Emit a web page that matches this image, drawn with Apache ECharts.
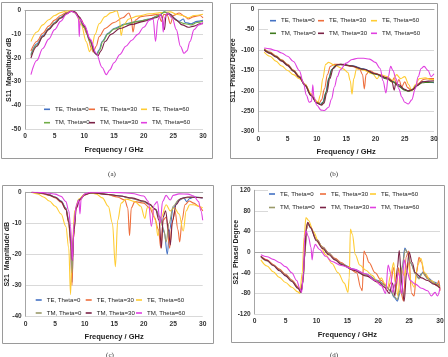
<!DOCTYPE html>
<html>
<head>
<meta charset="utf-8">
<script src="https://cdn.jsdelivr.net/npm/echarts@6/dist/echarts.min.js"></script>
<style>
  html, body { margin: 0; padding: 0; background: #fff; }
  #chart { width: 448px; height: 357px; }
</style>
</head>
<body>
<div id="chart"></div>
<script>
const seriesNames = ['TE, Theta=0', 'TE, Theta=30', 'TE, Theta=60', 'TM, Theta=0', 'TM, Theta=30', 'TM, Theta=60']
const xTicks = [0, 5, 10, 15, 20, 25, 30]

// (a) S11 magnitude [GHz, dB]
const s11MagTE0 = [[1,-18.5],[2,-14],[3,-10.5],[4,-7.5],[5,-5],[6,-2.8],[7,-1],[7.8,-0.2],[8.3,-0.5],[9,-2.5],[10,-7],[11,-13],[11.6,-17],[12,-18.5],[12.5,-16.5],[13,-13],[14,-9.5],[15,-7.5],[17,-5.5],[19,-4.5],[21,-3.5],[22.5,-2],[23.5,-0.5],[24.2,-1],[25,-3],[26,-4.5],[26.7,-3.5],[27,-5],[28,-5.5],[29,-4.5],[30,-4]]
const s11MagTE30 = [[1,-17],[2,-13],[3,-9.5],[4,-6.5],[5,-4],[6,-2],[7,-0.7],[7.8,-0.1],[8.5,-0.8],[9.5,-4],[10.5,-10],[11.2,-16],[11.5,-17.5],[12,-15],[12.5,-11],[13.5,-7.5],[15,-5],[16.5,-3],[17.5,-1],[17.9,-3],[18.2,-9],[18.6,-4],[19.5,-2.5],[21,-2],[22.5,-1.5],[23,-4.5],[23.4,-1.5],[24,-2],[24.5,-5.5],[25,-2],[26,-1],[27,-2.5],[27.5,-3.5],[28.5,-2.5],[29.5,-2],[30,-3]]
const s11MagTE60 = [[1,-13],[2,-9],[3,-6],[4,-3.8],[5,-2],[6,-0.8],[7,-0.1],[7.8,0],[8.5,-1],[9.5,-6],[10.3,-13],[10.9,-17.3],[11.3,-15],[11.8,-10],[12.5,-5.5],[13.5,-2.5],[14.5,-0.8],[15.5,0],[15.9,-3],[16.2,-10.5],[16.6,-6],[17.5,-3.5],[19,-2.3],[21,-1.3],[23,-0.8],[24.5,-0.5],[25.5,-1.5],[26.5,-2],[27.5,-3],[28.5,-2],[30,-1.5]]
const s11MagTM0 = [[1,-19],[2,-14.5],[3,-11],[4,-7.8],[5,-5.2],[6,-3],[7,-1.1],[7.8,-0.2],[8.3,-0.5],[9,-2.6],[10,-7.2],[11,-13.3],[11.7,-17.5],[12.1,-18.7],[12.6,-16.5],[13.1,-13],[14,-9.8],[15,-7.8],[17,-5.7],[19,-4.6],[21,-3.6],[22.5,-2.1],[23.5,-0.6],[24.2,-1.1],[25,-3.2],[26,-4.8],[27,-5.5],[28,-6],[29,-5],[30,-4.5]]
const s11MagTM30 = [[1,-20],[2,-15],[3,-11],[4,-8],[5,-5.5],[6,-3.2],[7,-1.3],[7.8,-0.3],[8.4,-0.5],[9.2,-2.8],[10,-6.5],[11,-12.5],[11.8,-18],[12.3,-19],[12.8,-17],[13.5,-13],[14.5,-10],[16,-7.5],[18,-5.8],[20,-4.5],[22,-3],[23,-1.8],[23.5,-8],[23.8,-1.5],[24.5,-1.5],[25.5,-4],[26.5,-6],[27.5,-7],[28.5,-6.5],[29.5,-5.5],[30,-5.5]]
const s11MagTM60 = [[1,-27],[2,-21],[3,-16],[4,-12],[5,-8],[6,-4.5],[7,-1.5],[7.8,-0.2],[8.5,-1],[9,-3],[9.15,-11],[9.3,-3.5],[10,-6],[11,-12],[12,-18],[13,-24],[13.7,-27],[14.3,-25],[15,-22],[16,-18.5],[17,-15],[18,-12.5],[19,-10],[20,-7],[21,-4],[21.6,-3.5],[22,-13],[22.4,-4],[22.8,-1.5],[23.1,-3],[23.3,-9],[23.5,-3],[24,-1],[24.8,-3],[25.5,-8],[26.2,-15],[26.8,-18],[27.3,-17],[27.8,-13],[28.5,-8],[29.3,-6],[30,-5]]

// (b) S11 phase [GHz, degree]
const s11PhTE0 = [[1,-98],[2,-106],[3,-115],[4,-125],[5,-136],[6,-150],[7,-165],[8,-185],[9,-210],[10,-228],[10.6,-233],[11,-228],[11.5,-205],[12,-170],[12.5,-148],[13.2,-137],[14,-135],[16,-138],[18,-146],[20,-158],[22,-170],[23,-177],[24,-188],[25,-197],[25.6,-200],[26.3,-196],[27,-185],[28,-177],[29,-178],[30,-180]]
const s11PhTE30 = [[1,-97],[2,-105],[3,-114],[4,-124],[5,-135],[6,-149],[7,-164],[8,-184],[9,-208],[10,-227],[10.4,-230],[10.8,-222],[11.3,-195],[11.8,-160],[12.3,-140],[13,-135],[14,-135],[16,-140],[17.3,-147],[17.8,-160],[18.1,-195],[18.4,-160],[19,-150],[20,-157],[21,-163],[22,-170],[22.8,-178],[23.2,-168],[23.6,-185],[24,-172],[24.5,-190],[25,-178],[25.5,-192],[26,-197],[26.6,-195],[27.3,-182],[28.2,-172],[29,-170],[30,-170]]
const s11PhTE60 = [[1,-105],[2,-115],[3,-127],[4,-139],[5,-150],[6,-160],[7,-170],[8,-185],[9,-207],[9.7,-222],[10.2,-228],[10.6,-210],[11,-170],[11.5,-135],[12,-130],[13,-137],[14.5,-146],[15.3,-155],[15.7,-175],[16,-208],[16.3,-170],[16.8,-145],[18,-149],[19.5,-158],[20.3,-170],[20.8,-160],[22,-165],[23,-175],[23.6,-160],[24.3,-170],[25,-165],[25.7,-185],[26.2,-200],[26.8,-185],[27.5,-170],[28.5,-168],[29.5,-172],[30,-172]]
const s11PhTM0 = [[1,-99],[2,-107],[3,-116],[4,-126],[5,-137],[6,-151],[7,-166],[8,-186],[9,-211],[10,-229],[10.7,-234],[11.1,-228],[11.6,-203],[12.1,-168],[12.6,-147],[13.3,-137],[14,-135],[16,-139],[18,-147],[20,-159],[22,-171],[23,-178],[24,-189],[25,-198],[25.7,-201],[26.4,-197],[27,-188],[28,-180],[29,-179],[30,-178]]
const s11PhTM30 = [[1,-100],[2,-108],[3,-117],[4,-127],[5,-138],[6,-152],[7,-167],[8,-187],[9,-212],[10,-230],[10.8,-235],[11.2,-230],[11.7,-205],[12.2,-170],[12.8,-145],[13.5,-136],[14.5,-135],[16,-139],[18,-147],[20,-158],[22,-168],[22.8,-175],[23.2,-198],[23.5,-180],[24,-185],[25,-196],[25.6,-200],[26.3,-197],[27,-188],[28,-178],[29,-176],[30,-175]]
const s11PhTM60 = [[1,-95],[2,-97],[3,-101],[4,-107],[5,-115],[6,-128],[7,-150],[7.7,-180],[8.2,-210],[8.7,-228],[9.1,-225],[9.3,-185],[9.5,-215],[10,-235],[10.7,-247],[11.3,-248],[12,-240],[12.5,-220],[13,-190],[13.5,-165],[14,-148],[15,-132],[16,-123],[17,-120],[18,-120],[19,-122],[20,-130],[20.8,-145],[21.3,-175],[21.8,-205],[22.2,-165],[22.6,-140],[23,-150],[23.5,-170],[24,-195],[24.5,-215],[25,-228],[25.6,-232],[26.2,-222],[26.8,-195],[27.3,-165],[27.8,-145],[28.3,-140],[29,-150],[29.5,-165],[30,-158]]

// (c) S21 magnitude [GHz, dB]
const s21MagTE0 = [[1,0],[2,-0.1],[3,-0.4],[4,-0.8],[5,-1.5],[6,-2.8],[6.8,-5],[7.3,-9],[7.6,-16],[7.85,-29],[8.1,-14],[8.5,-5],[9,-2.5],[10,-0.8],[11,-0.2],[12,-0.3],[14,-0.7],[16,-1.2],[18,-2],[20,-3],[21,-4],[22,-5.5],[22.8,-8],[23.5,-13],[24,-20],[24.4,-12],[25,-5],[26,-2.5],[26.8,-1.8],[27.3,-3],[27.8,-2],[28.5,-1.5],[30,-1.8]]
const s21MagTE30 = [[1,0],[2,-0.1],[3,-0.5],[4,-1],[5,-1.8],[6,-3.2],[6.8,-5.5],[7.3,-10],[7.6,-17],[7.85,-30],[8.1,-15],[8.5,-5.5],[9,-2.8],[10,-0.9],[11,-0.2],[12,-0.3],[14,-0.8],[15.5,-1.5],[16.8,-2.5],[17.3,-5],[17.6,-14],[17.9,-5],[18.5,-3],[20,-3.5],[21,-5],[21.8,-8],[22.5,-12],[22.9,-18],[23.3,-9],[23.8,-8],[24.4,-18],[24.8,-10],[25.3,-6],[25.8,-12],[26.1,-16],[26.5,-9],[27,-4],[27.7,-2.8],[28.5,-3.5],[29.3,-4.5],[30,-6]]
const s21MagTE60 = [[1,0],[2,-0.5],[3,-1.5],[4,-2.8],[5,-4.5],[6,-7],[6.8,-11],[7.3,-18],[7.6,-33],[7.9,-17],[8.3,-6],[9,-2.2],[10,-0.6],[11,-0.1],[12,-0.6],[13,-1.8],[14,-4.5],[14.7,-10],[15.2,-24],[15.6,-9],[16.2,-3.5],[17,-2.2],[18.5,-3],[19.5,-4.5],[20.2,-8.4],[20.6,-5],[21.3,-5],[22,-9],[22.4,-14],[23,-8],[23.8,-4],[24.5,-6],[25.2,-5],[26,-7],[26.7,-12.5],[27.2,-6],[27.8,-4],[28.5,-4],[29.3,-4.5],[30,-5]]
const s21MagTM0 = [[1,0],[2,-0.1],[3,-0.4],[4,-0.9],[5,-1.6],[6,-2.9],[6.8,-5.2],[7.3,-9.2],[7.6,-15],[7.85,-26],[8.1,-13],[8.5,-5],[9,-2.4],[10,-0.8],[11,-0.2],[12,-0.3],[14,-0.7],[16,-1.2],[18,-2],[20,-3],[21,-4],[22,-5.6],[22.8,-8.5],[23.4,-12],[23.8,-16],[24.3,-10],[25,-4.5],[26,-2.3],[27,-1.8],[28.5,-1.6],[30,-1.7]]
const s21MagTM30 = [[1,0],[2,-0.1],[3,-0.4],[4,-0.9],[5,-1.6],[6,-3],[6.8,-5.5],[7.3,-9.5],[7.6,-15],[7.9,-22],[8.2,-12],[8.6,-5],[9.2,-2.3],[10,-0.8],[11,-0.2],[12,-0.3],[14,-0.7],[16,-1.2],[18,-1.8],[20,-2.8],[21,-3.8],[22,-5.5],[22.6,-9],[23,-18],[23.3,-8],[23.7,-6],[24.2,-12],[24.5,-17],[24.9,-9],[25.5,-4],[26.3,-2],[27.5,-1.5],[28.5,-1.6],[30,-1.8]]
const s21MagTM60 = [[1,0],[2,0],[3,-0.1],[4,-0.3],[5,-0.6],[6,-1.3],[6.8,-3],[7.3,-6],[7.6,-11],[7.9,-22],[8.2,-10],[8.6,-4],[9,-2.5],[9.2,-7],[9.4,-2],[10,-0.5],[11,0],[13,0],[16,-0.1],[18,-0.4],[20,-1.2],[20.8,-3],[21.3,-11],[21.8,-4],[22.3,-3],[22.8,-10],[23.2,-3],[23.8,-1],[24.5,-2.5],[25,-1],[26,-0.5],[27.5,-0.6],[28.5,-1.2],[29.3,-3],[29.7,-6],[30,-9]]

// (d) S21 phase [GHz, degree]
const s21PhTE0 = [[1,-8],[2,-16],[3,-25],[4,-34],[5,-44],[6,-55],[7,-68],[7.5,-77],[7.8,-60],[8.1,-10],[8.4,45],[8.6,55],[9,48],[10,25],[11,10],[12,-2],[13,-13],[14,-22],[16,-33],[18,-43],[20,-55],[21,-63],[22,-75],[22.6,-88],[23.1,-95],[23.5,-80],[23.9,-30],[24.3,8],[24.7,0],[25.2,-20],[26,-40],[26.5,-50],[27,-42],[27.3,-38],[28,-50],[29,-58],[30,-65]]
const s21PhTE30 = [[1,-8],[2,-15],[3,-24],[4,-33],[5,-43],[6,-54],[7,-67],[7.5,-76],[7.8,-58],[8.1,-8],[8.4,45],[8.7,56],[9,50],[10,25],[11,10],[12,-2],[13,-12],[14,-20],[15,-28],[16.5,-40],[17.2,-70],[17.4,-75],[17.7,2],[18,-5],[18.5,-20],[19.5,-40],[20.5,-55],[21.5,-75],[22,-60],[22.5,-30],[22.9,-70],[23.3,-30],[23.7,-80],[24.1,-95],[24.5,-10],[24.9,2],[25.4,-80],[25.8,-85],[26.2,-40],[26.6,-10],[27,-20],[27.5,-45],[28.5,-55],[29.5,-65],[29.8,-55],[30,-75]]
const s21PhTE60 = [[1,-15],[2,-27],[3,-38],[4,-49],[5,-59],[6,-68],[7,-77],[7.3,-80],[7.7,-40],[8,30],[8.3,67],[8.7,62],[9.5,40],[10.5,15],[11.5,-5],[12.5,-22],[13.5,-40],[14.5,-60],[15.1,-78],[15.3,-50],[15.5,45],[15.8,35],[16.3,-5],[17,-25],[18,-35],[19,-45],[20,-60],[20.5,-50],[21,-60],[21.5,-70],[22,-45],[22.5,-20],[22.8,-60],[23.2,-85],[23.6,-30],[24.2,-45],[24.8,-20],[25.4,-60],[25.8,-68],[26.4,-25],[26.9,-12],[27.5,-40],[28.5,-55],[29.5,-62],[30,-72]]
const s21PhTM0 = [[1,-9],[2,-17],[3,-26],[4,-35],[5,-45],[6,-56],[7,-69],[7.5,-78],[7.8,-58],[8.1,-5],[8.4,48],[8.6,57],[9,48],[10,24],[11,9],[12,-3],[13,-14],[14,-23],[16,-34],[18,-44],[20,-56],[21,-64],[22,-74],[22.6,-86],[23.1,-92],[23.5,-75],[23.9,-25],[24.4,5],[24.8,-2],[25.3,-22],[26,-42],[26.6,-52],[27.2,-40],[28,-52],[29,-60],[30,-68]]
const s21PhTM30 = [[1,-8],[2,-16],[3,-26],[4,-36],[5,-46],[6,-57],[7,-70],[7.5,-78],[7.8,-55],[8.1,0],[8.4,52],[8.6,58],[9,48],[10,22],[11,7],[12,-5],[13,-15],[14,-24],[16,-35],[18,-46],[20,-58],[21,-68],[21.8,-80],[22.3,-60],[22.7,-85],[23.1,-30],[23.4,3],[23.8,-60],[24.2,-95],[24.6,-40],[25,0],[25.5,-20],[26,-40],[27,-50],[28,-55],[29,-62],[30,-70]]
const s21PhTM60 = [[1,-5],[2,-9],[3,-14],[4,-20],[5,-28],[6,-40],[6.8,-55],[7.3,-70],[7.6,-78],[7.9,-40],[8.1,30],[8.3,42],[8.7,30],[9.1,10],[9.3,-15],[9.5,5],[9.8,15],[10.5,5],[11.5,-8],[12.5,-18],[14,-26],[16,-33],[18,-42],[19.5,-55],[20.5,-65],[21.2,-80],[21.6,-25],[22,-40],[22.3,-78],[22.8,-60],[23.3,-40],[23.8,-80],[24.2,-15],[24.6,-35],[25.2,-55],[26,-62],[27,-70],[28,-75],[28.6,-85],[29.2,-78],[29.6,-85],[30,-70]]

const panels = [
  {
    data: [s11MagTE0, s11MagTE30, s11MagTE60, s11MagTM0, s11MagTM30, s11MagTM60],
    grid: { left: 25, top: 10.7, width: 178, height: 118.3 },
    y: { min: -50, max: 0, interval: 10, name: 'S11  Magnitude/ dB', nameGap: 12 },
    xNameGap: 17,
    frame: [1, 2, 211, 156],
    caption: ['(a)', 112, 174],
    legendCols: [55, 100, 152], legendRows: [109.3, 122.7],
    legendBg: [45, 103, 158, 25],
    tm0: '#70ad47'
  },
  {
    data: [s11PhTE0, s11PhTE30, s11PhTE60, s11PhTM0, s11PhTM30, s11PhTM60],
    grid: { left: 258.3, top: 9.3, width: 175.7, height: 122.4 },
    y: { min: -300, max: 0, interval: 50, name: 'S11  Phase/ Degree', nameGap: 21.5 },
    xNameGap: 16,
    frame: [230, 3, 207, 155],
    caption: ['(b)', 334, 174],
    legendCols: [281, 329, 382], legendRows: [20.7, 33.3],
    legendBg: [268, 14, 166, 26],
    tm0: '#3f7a1e'
  },
  {
    data: [s21MagTE0, s21MagTE30, s21MagTE60, s21MagTM0, s21MagTM30, s21MagTM60],
    grid: { left: 25.7, top: 192.3, width: 177, height: 124 },
    y: { min: -40, max: 0, interval: 10, name: 'S21  Magnitude/ dB', nameGap: 15.5 },
    xNameGap: 17,
    frame: [2, 185, 211, 158],
    caption: ['(c)', 110, 355],
    legendCols: [46.7, 96.7, 147], legendRows: [300, 313],
    legendBg: null,
    tm0: '#9a9a6a'
  },
  {
    data: [s21PhTE0, s21PhTE30, s21PhTE60, s21PhTM0, s21PhTM30, s21PhTM60],
    grid: { left: 254.7, top: 190.3, width: 185.3, height: 123.7 },
    y: { min: -120, max: 120, interval: 40, name: 'S21  Phase/ Degree', nameGap: 15.5 },
    xNameGap: 17,
    frame: [231, 185, 213, 157],
    caption: ['(d)', 334, 355],
    legendCols: [280, 331, 381], legendRows: [194, 207.5],
    legendBg: [268, 188, 172, 26],
    tm0: '#9a9a6a'
  }
]

const baseColors = ['#4472c4', '#ee6e3c', '#ffcc33', null, '#7b2246', '#e040e0']
const drawOrder = [3, 0, 1, 2, 4, 5]
const labelFont = 'Liberation Sans, Arial, sans-serif'

// same legend text in every panel, zero-width spaces keep the names apart
const panelName = (name, p) => name + '\u200b'.repeat(p)

const grids = []
const xAxes = []
const yAxes = []
const series = []
const legends = []
const graphics = []

panels.forEach((panel, p) => {
  const colors = baseColors.map((c, i) => (i === 3 ? panel.tm0 : c))
  grids.push(panel.grid)
  xAxes.push({
    type: 'value', gridIndex: p, min: 0, max: 30, interval: 5,
    name: 'Frequency / GHz', nameLocation: 'middle', nameGap: panel.xNameGap,
    nameMoveOverlap: false,
    nameTextStyle: { fontFamily: labelFont, fontSize: 7.5, fontWeight: 'bold', color: '#222' },
    axisLine: { lineStyle: { color: '#a6a6a6', width: 1 } },
    axisTick: { show: false },
    axisLabel: { fontFamily: labelFont, fontSize: 6.7, fontWeight: 'bold', color: '#333', margin: 4 },
    splitLine: { show: false }
  })
  yAxes.push({
    type: 'value', gridIndex: p, min: panel.y.min, max: panel.y.max, interval: panel.y.interval,
    name: panel.y.name, nameLocation: 'middle', nameRotate: 90, nameGap: panel.y.nameGap,
    nameMoveOverlap: false,
    nameTextStyle: { fontFamily: labelFont, fontSize: 7, fontWeight: 'bold', color: '#222' },
    axisLine: { show: true, lineStyle: { color: '#a6a6a6', width: 1 } },
    axisTick: { show: false },
    axisLabel: { fontFamily: labelFont, fontSize: 6.5, fontWeight: 'bold', color: '#333', margin: 4 },
    splitLine: { lineStyle: { color: '#d9d9d9', width: 1 } }
  })

  drawOrder.forEach((i) => {
    series.push({
      type: 'line',
      name: panelName(seriesNames[i], p),
      xAxisIndex: p, yAxisIndex: p,
      data: panel.data[i],
      smooth: 0.35, smoothMonotone: 'x',
      symbol: 'none',
      color: colors[i],
      lineStyle: { width: 1.1, color: colors[i] },
      z: 2 + i * 0.01,
      animation: false
    })
  })

  seriesNames.forEach((name, i) => {
    legends.push({
      data: [panelName(name, p)],
      left: panel.legendCols[i % 3] - 11,
      top: panel.legendRows[Math.floor(i / 3)] - 4,
      padding: 0,
      itemWidth: 6, itemHeight: 1.6, icon: 'rect',
      selectedMode: false,
      formatter: (n) => n.replace(/\u200b/g, ''),
      textStyle: { fontFamily: labelFont, fontSize: 6.1, color: '#222', lineHeight: 8 }
    })
  })

  const [fx, fy, fw, fh] = panel.frame
  graphics.push({
    type: 'rect', z: 0, silent: true,
    shape: { x: fx + 0.5, y: fy + 0.5, width: fw, height: fh },
    style: { fill: 'none', stroke: '#9a9a9a', lineWidth: 1 }
  })
  if (panel.legendBg) {
    const [bx, by, bw, bh] = panel.legendBg
    graphics.push({
      type: 'rect', z: 1, silent: true,
      shape: { x: bx, y: by, width: bw, height: bh },
      style: { fill: '#fff' }
    })
  }
  graphics.push({
    type: 'text', z: 5, silent: true,
    x: panel.caption[1], y: panel.caption[2],
    style: {
      text: panel.caption[0], fill: '#333',
      font: '7px "Liberation Serif", "DejaVu Serif", serif',
      align: 'center', verticalAlign: 'middle'
    }
  })
})

const chart = echarts.init(document.getElementById('chart'), null, { renderer: 'canvas' })
chart.setOption({
  animation: false,
  backgroundColor: '#fff',
  grid: grids,
  xAxis: xAxes,
  yAxis: yAxes,
  legend: legends,
  graphic: graphics,
  series
})
</script>
</body>
</html>
